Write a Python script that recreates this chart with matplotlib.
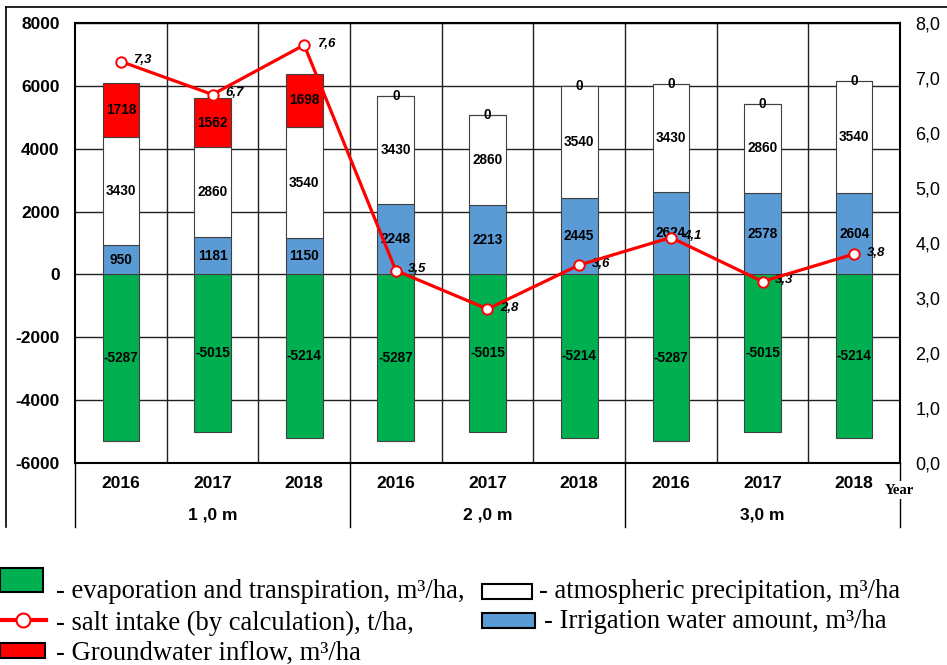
import matplotlib
matplotlib.use('Agg')
import matplotlib.pyplot as plt
import numpy as np
from matplotlib.lines import Line2D
from matplotlib.patches import Rectangle
import matplotlib.transforms as mtrans

# ---------------- data ----------------
years = ['2016', '2017', '2018', '2016', '2017', '2018', '2016', '2017', '2018']
groups = ['1 ,0 m', '2 ,0 m', '3,0 m']
evaporation = [-5287, -5015, -5214, -5287, -5015, -5214, -5287, -5015, -5214]
irrigation = [950, 1181, 1150, 2248, 2213, 2445, 2624, 2578, 2604]
precipitation = [3430, 2860, 3540, 3430, 2860, 3540, 3430, 2860, 3540]
groundwater = [1718, 1562, 1698, 0, 0, 0, 0, 0, 0]
salt = [7.3, 6.7, 7.6, 3.5, 2.8, 3.6, 4.1, 3.3, 3.8]
left_ticks = [-6000, -4000, -2000, 0, 2000, 4000, 6000, 8000]
right_ticks = [0, 1, 2, 3, 4, 5, 6, 7, 8]

GREEN = '#00B050'
BLUE = '#5B9BD5'
RED = '#FF0000'
EDGE = '#404040'

W, H = 947, 665
fig = plt.figure(figsize=(W / 100, H / 100), dpi=100)
plt.rcParams['font.family'] = ['Liberation Sans', 'DejaVu Sans']

ax = fig.add_axes([75 / W, 1 - 463 / H, 825 / W, 440 / H])
x = np.arange(len(years))
ax.set_xlim(-0.5, len(years) - 0.5)
ax.set_ylim(-6000, 8000)
ax.set_axisbelow(True)

bw = 0.4
ev = np.array(evaporation)
ir = np.array(irrigation)
pr = np.array(precipitation)
gw = np.array(groundwater)

ax.bar(x, ev, bw, color=GREEN, edgecolor=EDGE, lw=0.8, zorder=2)
ax.bar(x, ir, bw, color=BLUE, edgecolor=EDGE, lw=0.8, zorder=2)
ax.bar(x, pr, bw, bottom=ir, color='white', edgecolor=EDGE, lw=0.8, zorder=2)
ax.bar(x, gw, bw, bottom=ir + pr, color=RED, edgecolor=EDGE, lw=0.8, zorder=2)

lab = dict(ha='center', va='center', fontsize=9.8, fontweight='bold', color='black', zorder=4)
for i in range(len(x)):
    ax.text(x[i], ev[i] / 2, str(ev[i]), **lab)
    ax.text(x[i], ir[i] / 2, str(ir[i]), **lab)
    ax.text(x[i], ir[i] + pr[i] / 2, str(pr[i]), **lab)
    ax.text(x[i], ir[i] + pr[i] + gw[i] / 2, str(gw[i]), **lab)

# grid
ax.set_yticks(left_ticks)
ax.set_yticklabels([str(v) for v in left_ticks])
ax.yaxis.grid(True, color='#202020', lw=1.0)
for b in np.arange(0.5, len(years) - 0.5, 1.0):
    ax.axvline(b, color='#202020', lw=1.0, zorder=0.5)

ax.tick_params(axis='y', length=0, pad=11, labelsize=12.5)
for t in ax.get_yticklabels():
    t.set_fontweight('bold')
ax.set_xticks(x)
ax.set_xticklabels(years)
ax.tick_params(axis='x', length=0, pad=9, labelsize=12.5)
for t in ax.get_xticklabels():
    t.set_fontweight('bold')

for s in ax.spines.values():
    s.set_linewidth(1.5)
    s.set_color('black')

# group labels and separators
trans = mtrans.blended_transform_factory(ax.transData, ax.transAxes)
for gi, g in enumerate(groups):
    ax.text(gi * 3 + 1, -52 / 440, g, transform=trans, ha='center', va='center',
            fontsize=12.5, fontweight='bold')
for b in [-0.5, 2.5, 5.5, 8.5]:
    ax.plot([b, b], [0, -64 / 440], transform=trans, color='black', lw=1.0, clip_on=False,
            zorder=1)

fig.text(885 / W, 1 - 490 / H, 'Year', ha='left', va='center',
         fontsize=10.5, fontweight='bold', family='Liberation Serif', zorder=6,
         bbox=dict(facecolor='white', edgecolor='none', pad=1.5))

# right axis: salt
ax2 = ax.twinx()
ax2.set_ylim(0, 8)
ax2.set_yticks(right_ticks)
ax2.set_yticklabels([f'{v:.1f}'.replace('.', ',') for v in right_ticks])
ax2.tick_params(axis='y', length=0, pad=11, labelsize=13)
for s in ax2.spines.values():
    s.set_visible(False)
ax2.plot(x, salt, color=RED, lw=2.3, marker='o', ms=7.5, mfc='white', mec=RED, mew=1.4, zorder=5)
for i in range(len(x)):
    ax2.annotate(f'{salt[i]:.1f}'.replace('.', ','), (x[i], salt[i]), xytext=(9, 1),
                 textcoords='offset points', ha='left', va='center', fontsize=9.5,
                 fontweight='bold', fontstyle='italic')

# outer frame lines
fig.add_artist(Line2D([6 / W, 6 / W], [1 - 7 / H, 1 - 527 / H], color='black', lw=1.2))
fig.add_artist(Line2D([6 / W, 1.0], [1 - 7 / H, 1 - 7 / H], color='black', lw=1.2))

# ---------------- legend ----------------
def box(x0, y0, x1, y1, color):
    fig.add_artist(Rectangle((x0 / W, 1 - y1 / H), (x1 - x0) / W, (y1 - y0) / H,
                             facecolor=color, edgecolor='black', lw=1.5))

box(0, 568, 43, 592, GREEN)
box(482, 584, 532, 599, 'white')
box(482, 613, 535, 628, BLUE)
box(0, 643, 45, 658, RED)
fig.add_artist(Line2D([0, 46 / W], [1 - 620 / H, 1 - 620 / H], color=RED, lw=3))
fig.add_artist(Line2D([23 / W], [1 - 620 / H], marker='o', ms=10, mfc='white', mec=RED, mew=1.5,
                      color=RED))

renderer = fig.canvas.get_renderer()
t1 = fig.text(56 / W, 1 - 592 / H, '- evaporation and transpiration, m³/ha,', fontsize=20,
              ha='left', va='center', family='Liberation Serif')
bb = t1.get_window_extent(renderer)
fs = 20 * (465 - 56) / bb.width
t1.set_fontsize(fs)
leg = dict(fontsize=fs, ha='left', va='center', family='Liberation Serif')
fig.text(539 / W, 1 - 592 / H, '- atmospheric precipitation, m³/ha', **leg)
fig.text(56 / W, 1 - 623 / H, '- salt intake (by calculation), t/ha,', **leg)
fig.text(544 / W, 1 - 622 / H, '- Irrigation water amount, m³/ha', **leg)
fig.text(56 / W, 1 - 653 / H, '- Groundwater inflow, m³/ha', **leg)

fig.savefig('out.png', dpi=100)
